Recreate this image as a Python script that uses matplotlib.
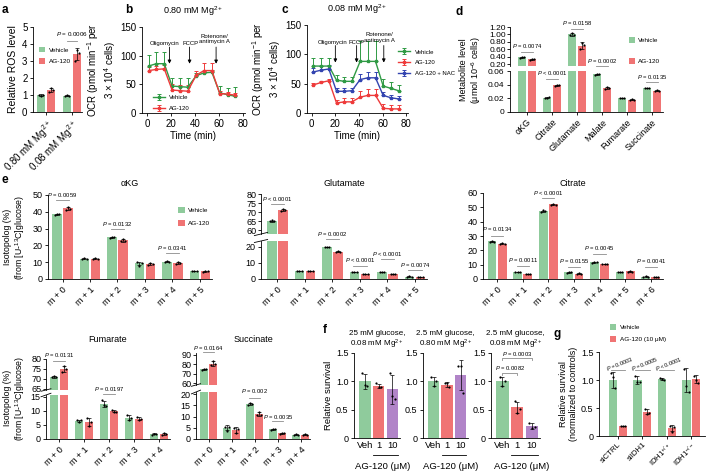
import matplotlib
matplotlib.use('Agg')
import matplotlib.pyplot as plt
from matplotlib.patches import Patch
import numpy as np

plt.rcParams['font.family'] = ['Liberation Sans', 'DejaVu Sans']
plt.rcParams['mathtext.fontset'] = 'custom'
plt.rcParams['mathtext.rm'] = 'Liberation Sans'
plt.rcParams['mathtext.it'] = 'Liberation Sans:italic'
plt.rcParams['axes.linewidth'] = 0.6

# ---------------- data ----------------
# a
a_groups = ['0.80 mM Mg$^{2+}$', '0.08 mM Mg$^{2+}$']
a_veh = [1.0, 0.97]
a_ag = [1.3, 3.4]
a_veh_pts = [[1.0, 0.95, 1.02], [0.95, 1.0, 0.97]]
a_ag_pts = [[1.15, 1.42, 1.3], [3.0, 3.65, 3.5]]

# b / c (OCR)
time_min = [1.5, 8, 14.5, 21, 27.5, 34, 41, 47.5, 54, 60.5, 67, 73.5]
b_veh = [82, 86, 86, 47, 46, 45, 65, 70, 71, 35, 32, 29]
b_veh_err = [20, 20, 20, 14, 15, 16, 4, 4, 4, 12, 12, 16]
b_ag = [74, 76, 77, 40, 39, 38, 66, 74, 74, 34, 33, 31]
b_ag_err = [6, 6, 6, 10, 10, 10, 8, 14, 14, 4, 4, 4]

c_veh = [80, 80, 80, 56, 54, 54, 88, 88, 88, 46, 42, 38]
c_veh_err = [14, 14, 14, 8, 8, 8, 35, 35, 35, 12, 10, 10]
c_ag = [48, 52, 55, 17, 19, 19, 27, 30, 30, 8, 7, 7]
c_ag_err = [3, 3, 3, 6, 6, 6, 11, 11, 11, 7, 7, 7]
c_nac = [70, 73, 75, 37, 37, 38, 57, 60, 60, 30, 26, 24]
c_nac_err = [7, 7, 7, 5, 5, 5, 10, 10, 10, 5, 5, 5]

# d
d_cats = ['\u03b1KG', 'Citrate', 'Glutamate', 'Malate', 'Fumarate', 'Succinate']
d_veh = [0.38, 0.021, 1.0, 0.055, 0.020, 0.035]
d_ag = [0.33, 0.039, 0.70, 0.035, 0.018, 0.031]
d_veh_pts = [[0.37, 0.39, 0.38], [0.0205, 0.021, 0.0215], [0.98, 1.04, 0.99],
             [0.054, 0.056, 0.055], [0.0198, 0.0202, 0.020], [0.0345, 0.0356, 0.035]]
d_ag_pts = [[0.32, 0.345, 0.33], [0.038, 0.040, 0.039], [0.60, 0.78, 0.72],
            [0.034, 0.0365, 0.035], [0.0175, 0.0186, 0.018], [0.0305, 0.0316, 0.031]]

# e isotopologs
akg_labels = ['m + 0', 'm + 1', 'm + 2', 'm + 3', 'm + 4', 'm + 5']
akg_veh = [38.5, 12.2, 24.8, 9.3, 10.2, 4.7]
akg_ag = [42.0, 12.2, 23.0, 9.0, 9.5, 4.5]
akg_veh_pts = [[38.2, 38.9, 38.6], [12.0, 12.4, 12.2], [24.6, 25.0, 24.8],
               [10.0, 8.0, 9.8], [10.0, 10.5, 10.1], [4.6, 4.8, 4.7]]
akg_ag_pts = [[41.2, 43.0, 41.8], [12.1, 12.3, 12.2], [22.5, 23.8, 22.8],
              [8.5, 9.6, 8.9], [9.0, 10.0, 9.5], [4.4, 4.6, 4.5]]

glu_labels = ['m + 0', 'm + 1', 'm + 2', 'm + 3', 'm + 4', 'm + 5']
glu_veh = [65.0, 5.0, 20.0, 4.2, 4.5, 1.5]
glu_ag = [71.0, 4.9, 17.0, 3.0, 3.3, 1.3]
glu_veh_pts = [[64.8, 65.3, 64.9], [4.9, 5.1, 5.0], [19.8, 20.3, 20.0],
               [4.1, 4.3, 4.2], [4.4, 4.6, 4.5], [1.4, 1.6, 1.5]]
glu_ag_pts = [[70.5, 71.5, 71.0], [4.7, 5.1, 4.9], [16.8, 17.2, 17.0],
              [2.9, 3.1, 3.0], [3.2, 3.4, 3.3], [1.2, 1.4, 1.3]]

cit_labels = ['m + 0', 'm + 1', 'm + 2', 'm + 3', 'm + 4', 'm + 5', 'm + 6']
cit_veh = [26.2, 4.8, 47.3, 4.7, 11.7, 4.8, 1.7]
cit_ag = [24.6, 3.7, 52.0, 3.8, 10.6, 5.3, 1.3]
cit_veh_pts = [[26.0, 26.8, 25.9], [4.6, 5.0, 4.8], [47.0, 47.8, 47.2], [4.5, 4.9, 4.7],
               [11.5, 11.9, 11.7], [4.6, 5.0, 4.8], [1.6, 1.8, 1.7]]
cit_ag_pts = [[24.4, 24.8, 24.6], [3.6, 3.8, 3.7], [51.8, 52.3, 51.9], [3.6, 4.0, 3.8],
              [10.4, 10.8, 10.6], [5.0, 5.7, 5.2], [1.2, 1.4, 1.3]]

fum_labels = ['m + 0', 'm + 1', 'm + 2', 'm + 3', 'm + 4']
fum_veh = [71.0, 6.5, 12.5, 7.6, 1.8]
fum_ag = [75.0, 6.0, 10.0, 7.2, 1.8]
fum_veh_pts = [[70.8, 71.4, 71.2], [6.8, 6.2, 6.9], [14.0, 12.0, 11.8], [8.5, 6.8, 7.6], [1.6, 1.9, 1.9]]
fum_ag_pts = [[73.5, 76.5, 75.0], [7.5, 4.5, 6.0], [10.5, 9.8, 9.7], [7.8, 6.8, 7.0], [1.5, 2.2, 1.7]]

suc_labels = ['m + 0', 'm + 1', 'm + 2', 'm + 3', 'm + 4']
suc_veh = [74.5, 5.0, 15.5, 4.3, 2.0]
suc_ag = [80.5, 4.0, 11.0, 2.5, 2.0]
suc_veh_pts = [[74.2, 75.0, 74.5], [5.5, 3.5, 5.5], [15.2, 15.8, 15.5], [4.0, 4.5, 4.3], [1.8, 2.2, 2.0]]
suc_ag_pts = [[79.5, 84.0, 79.8], [5.0, 2.5, 4.5], [10.5, 12.2, 10.8], [2.2, 2.8, 2.5], [1.8, 2.1, 2.0]]

# f
f_titles = ['25 mM glucose,\n0.08 mM Mg$^{2+}$', '2.5 mM glucose,\n0.80 mM Mg$^{2+}$',
            '2.5 mM glucose,\n0.08 mM Mg$^{2+}$']
f_doses = ['Veh', '1', '10']
f_means = [[1.0, 0.92, 0.86], [1.0, 0.94, 1.11], [1.0, 0.54, 0.21]]
f_pts = [[[1.15, 0.93, 0.92], [0.97, 0.90, 0.90], [1.15, 0.75, 0.68]],
         [[1.07, 0.92, 1.0], [0.97, 0.97, 0.90], [1.27, 1.27, 0.80]],
         [[1.07, 0.92, 1.0], [0.65, 0.45, 0.52], [0.27, 0.18, 0.19]]]

# g
g_cats = ['siCTRL', 'siIDH1', 'IDH1$^{+/+}$', 'IDH1$^{-/-}$']
g_veh = [1.0, 1.0, 1.02, 1.0]
g_ag = [0.17, 0.43, 0.14, 1.02]
g_veh_pts = [[1.12, 1.05, 0.85], [1.08, 0.97, 0.97], [1.03, 1.02, 1.0], [1.2, 0.9, 0.78]]
g_ag_pts = [[0.17, 0.17, 0.17], [0.48, 0.40, 0.41], [0.18, 0.08, 0.16], [1.08, 1.0, 0.95]]

# ---------------- style ----------------
GREEN = '#8fcb9c'
RED = '#f07474'
PURPLE = '#b184c8'
LGREEN = '#2f9a44'
LRED = '#ee3a3a'
LBLUE = '#3344b0'
PGRAY = '#8c8c8c'

W, H = 707, 471
fig = plt.figure(figsize=(W / 100, H / 100), dpi=100)


def add_ax(l, t, r, b, fs=6.5):
    ax = fig.add_axes([l / W, 1 - b / H, (r - l) / W, (b - t) / H])
    for s in ['top', 'right']:
        ax.spines[s].set_visible(False)
    ax.tick_params(width=0.6, length=2.5, labelsize=fs, pad=1.5)
    return ax


def ft(x, y, s, **kw):
    return fig.text(x / W, 1 - y / H, s, **kw)


def dots(ax, xs, pts, dx=0.22):
    for x, p in zip(xs, pts):
        ax.scatter(x + np.array([-dx, 0, dx]), p, s=2.5, color='k', zorder=3, linewidths=0)


def grouped(ax, veh_m, veh_p, ag_m, ag_p, width=0.85, sp=2.5, off=0.5):
    n = len(veh_m)
    centers = np.arange(n) * sp
    for means, pts, col, o in [(veh_m, veh_p, GREEN, -off), (ag_m, ag_p, RED, off)]:
        xs = centers + o
        ax.bar(xs, means, width, color=col, zorder=1)
        errs = [np.std(p, ddof=1) for p in pts]
        ax.errorbar(xs, means, yerr=errs, fmt='none', ecolor='k', elinewidth=0.5,
                    capsize=1.2, capthick=0.5, zorder=2)
        dots(ax, xs, pts)
    return centers


def pval(ax, x0, x1, yline, ytext, text, fs=4.2):
    ax.plot([x0, x1], [yline, yline], color=PGRAY, lw=0.6, clip_on=False)
    ax.text((x0 + x1) / 2, ytext, text, ha='center', va='center', fontsize=fs, clip_on=False)


def P(v):
    return r'$\it{P}$ ' + v


def rot_labels(ax, ticks, labels, fs=6.5):
    ax.set_xticks(ticks)
    ax.set_xticklabels(labels, rotation=45, ha='right', rotation_mode='anchor', fontsize=fs)


def sq_legend(ax, labels, colors, anchor, fs=4.6, loc='upper left', spacing=0.9):
    handles = [Patch(facecolor=c, edgecolor='none') for c in colors]
    ax.legend(handles, labels, loc=loc, bbox_to_anchor=anchor, frameon=False, fontsize=fs,
              handlelength=1.0, handleheight=1.0, handletextpad=0.5, labelspacing=spacing,
              borderaxespad=0)


def break_marks(ax_top, ax_bot):
    for ax, y in [(ax_top, 0), (ax_bot, 1)]:
        ax.plot([-0.04, 0.04], [y - 0.04, y + 0.04], transform=ax.transAxes, color='k',
                lw=0.6, clip_on=False)


# ---------------- panel labels ----------------
for lab, x, y in [('a', 2, 10), ('b', 125, 10), ('c', 281, 10), ('d', 455, 12),
                  ('e', 2, 180), ('f', 323, 330), ('g', 553, 334)]:
    ft(x, y, lab, fontsize=8.5, fontweight='bold', va='center', ha='left')

# ---------------- a ----------------
ax = add_ax(33, 27, 82, 112, fs=7)
xa_veh = np.array([0.0, 2.5])
xa_ag = xa_veh + 1.0
ax.bar(xa_veh, a_veh, 0.8, color=GREEN)
ax.bar(xa_ag, a_ag, 0.8, color=RED)
ax.errorbar(xa_veh, a_veh, yerr=[np.std(p, ddof=1) for p in a_veh_pts], fmt='none', ecolor='k',
            elinewidth=0.5, capsize=1.2, capthick=0.5)
ax.errorbar(xa_ag, a_ag, yerr=[np.std(p, ddof=1) for p in a_ag_pts], fmt='none', ecolor='k',
            elinewidth=0.5, capsize=1.2, capthick=0.5)
dots(ax, xa_veh, a_veh_pts, 0.2)
dots(ax, xa_ag, a_ag_pts, 0.2)
ax.set_xlim(-0.8, 4.0)
ax.set_ylim(0, 5)
ax.set_yticks([0, 1, 2, 3, 4, 5])
rot_labels(ax, (xa_veh + xa_ag) / 2, a_groups, fs=7)
ax.set_ylabel('Relative ROS level', fontsize=7.5, labelpad=3)
pval(ax, 2.5, 3.5, 4.15, 4.6, P('= 0.0006'), fs=4.5)
sq_legend(ax, ['Vehicle', 'AG-120'], [GREEN, RED], (0.07, 0.80))

# ---------------- b ----------------
def ocr_axes(ax, title):
    ax.set_xlim(-4, 81.5)
    ax.set_ylim(0, 150)
    ax.set_xticks([0, 20, 40, 60, 80])
    ax.set_yticks([0, 50, 100, 150])
    ax.tick_params(labelsize=7)
    ax.set_xlabel('Time (min)', fontsize=7, labelpad=2)
    ax.set_title(title, fontsize=6.5, pad=9)


def arrows(ax, xs, texts_x, y_tail=115, y_head=86):
    for x in xs:
        ax.annotate('', xy=(x, y_head), xytext=(x, y_tail),
                    arrowprops=dict(arrowstyle='-|>', lw=0.6, color='k', mutation_scale=5,
                                    shrinkA=0, shrinkB=0))
    ax.text(texts_x[0], 121, 'Oligomycin', fontsize=4.3, ha='center', va='center')
    ax.text(texts_x[1], 121, 'FCCP', fontsize=4.3, ha='center', va='center')
    ax.text(texts_x[2], 129, 'Rotenone/\nantimycin A', fontsize=4.3, ha='center', va='center',
            linespacing=1.2)


def ocr_line(ax, y, err, color, label):
    z = np.zeros(len(y))
    ax.errorbar(time_min, y, yerr=[z, err], color=color, lw=1.0, marker='s', ms=1.8,
                elinewidth=0.7, capsize=1.5, capthick=0.7, label=label)


ocr_ylabel = 'OCR (pmol min$^{-1}$ per\n3 \u00d7 10$^4$ cells)'

ax = add_ax(142, 27, 245, 113)
ocr_line(ax, b_veh, b_veh_err, LGREEN, 'Vehicle')
ocr_line(ax, b_ag, b_ag_err, LRED, 'AG-120')
ocr_axes(ax, '0.80 mM Mg$^{2+}$')
arrows(ax, [18.8, 35.5, 57.5], [15, 36, 56])
ax.set_ylabel(ocr_ylabel, fontsize=7, labelpad=2, linespacing=1.1)
ax.legend(loc='lower left', bbox_to_anchor=(0.08, 0.0), frameon=False, fontsize=4.3,
          handlelength=2.0, labelspacing=0.9, borderaxespad=0)

# ---------------- c ----------------
ax = add_ax(307, 25, 408, 113)
ocr_line(ax, c_veh, c_veh_err, LGREEN, 'Vehicle')
ocr_line(ax, c_ag, c_ag_err, LRED, 'AG-120')
ocr_line(ax, c_nac, c_nac_err, LBLUE, 'AG-120 + NAC')
ocr_axes(ax, '0.08 mM Mg$^{2+}$')
arrows(ax, [20, 38, 61], [17.5, 38, 57.5])
ax.set_ylabel(ocr_ylabel, fontsize=7, labelpad=2, linespacing=1.1)
ax.legend(loc='upper left', bbox_to_anchor=(0.88, 0.75), frameon=False, fontsize=4.3,
          handlelength=2.0, labelspacing=0.9, borderaxespad=0)

# ---------------- d ----------------
axu = add_ax(510, 27, 663, 66, fs=6)
axl = add_ax(510, 71, 663, 112, fs=6)
for ax in (axu, axl):
    c = grouped(ax, d_veh, d_veh_pts, d_ag, d_ag_pts)
    ax.set_xlim(-1.7, 13.6)
axu.set_ylim(0.146, 1.2)
axu.set_yticks([0.2, 0.4, 0.6, 0.8, 1.0, 1.2])
axu.set_yticklabels(['0.20', '0.40', '0.60', '0.80', '1.00', '1.20'])
axu.tick_params(axis='y', length=2, pad=1)
axu.spines['bottom'].set_visible(False)
axu.set_xticks([])
axl.set_ylim(0, 0.06)
axl.set_yticks([0, 0.02, 0.04, 0.06])
axl.set_yticklabels(['0', '0.02', '0.04', '0.06'])
rot_labels(axl, c, d_cats, fs=6.5)
ft(471, 70, 'Metabolite level\n(\u03bcmol 10$^{-6}$ cells)', fontsize=6.5, rotation=90,
   ha='center', va='center', linespacing=1.1)
pval(axu, c[0] - 0.6, c[0] + 0.6, 0.524, 0.686, P('= 0.0074'))
pval(axu, c[2] - 0.6, c[2] + 0.6, 1.146, 1.31, P('= 0.0158'))
pval(axl, c[1] - 0.6, c[1] + 0.6, 0.0483, 0.057, P('< 0.0001'))
pval(axl, c[3] - 0.6, c[3] + 0.6, 0.0673, 0.0746, P('= 0.0002'))
pval(axl, c[5] - 0.6, c[5] + 0.6, 0.0439, 0.0512, P('= 0.0135'))
sq_legend(axu, ['Vehicle', 'AG-120'], [GREEN, RED], (0.76, 0.80), spacing=2.3)

# ---------------- e: aKG ----------------
ax = add_ax(48, 195, 212, 279)
c = grouped(ax, akg_veh, akg_veh_pts, akg_ag, akg_ag_pts)
ax.set_xlim(-1.32, 13.6)
ax.set_ylim(0, 50)
ax.set_yticks([0, 10, 20, 30, 40, 50])
rot_labels(ax, c, akg_labels)
ft(130, 183, '\u03b1KG', fontsize=6.5, ha='center', va='center')
pval(ax, c[0] - 0.6, c[0] + 0.6, 47, 50, P('= 0.0059'))
pval(ax, c[2] - 0.6, c[2] + 0.6, 29.8, 32.5, P('= 0.0132'))
pval(ax, c[4] - 0.6, c[4] + 0.6, 15.5, 18.5, P('= 0.0341'))
sq_legend(ax, ['Vehicle', 'AG-120'], [GREEN, RED], (0.78, 0.89), spacing=1.1)

ylab_e = 'Isotopolog (%)\n(from [U-$^{13}$C]glucose)'
ft(15, 237, ylab_e, fontsize=6.3, rotation=90, ha='center', va='center', linespacing=1.15)

# ---------------- e: Glutamate ----------------
axu = add_ax(261, 194, 427, 234)
axl = add_ax(261, 241, 427, 279)
for ax in (axu, axl):
    c = grouped(ax, glu_veh, glu_veh_pts, glu_ag, glu_ag_pts)
    ax.set_xlim(-1.5, 13.6)
axu.set_ylim(57.8, 80)
axu.set_yticks([60, 65, 70, 75, 80])
axu.tick_params(axis='y', pad=1)
axu.spines['bottom'].set_visible(False)
axu.set_xticks([])
axl.set_ylim(0, 23.75)
axl.set_yticks([0, 10, 20])
rot_labels(axl, c, glu_labels)
break_marks(axu, axl)
ft(344, 183, 'Glutamate', fontsize=6.5, ha='center', va='center')
pval(axu, c[0] - 0.6, c[0] + 0.6, 74.4, 77.4, P('< 0.0001'))
pval(axl, c[2] - 0.6, c[2] + 0.6, 25.0, 28.2, P('= 0.0002'))
pval(axl, c[3] - 0.6, c[3] + 0.6, 8.1, 11.9, P('< 0.0001'))
pval(axl, c[4] - 0.6, c[4] + 0.6, 12.5, 15.8, P('< 0.0001'))
pval(axl, c[5] - 0.6, c[5] + 0.6, 5.6, 8.8, P('= 0.0074'))

# ---------------- e: Citrate ----------------
ax = add_ax(483, 193, 663, 279)
c = grouped(ax, cit_veh, cit_veh_pts, cit_ag, cit_ag_pts)
ax.set_xlim(-1.38, 16.2)
ax.set_ylim(0, 60)
ax.set_yticks([0, 10, 20, 30, 40, 50, 60])
rot_labels(ax, c, cit_labels)
ft(573, 183, 'Citrate', fontsize=6.5, ha='center', va='center')
pval(ax, c[0] - 0.6, c[0] + 0.6, 30.0, 34.6, P('= 0.0134'))
pval(ax, c[1] - 0.6, c[1] + 0.6, 9.0, 13.3, P('= 0.0011'))
pval(ax, c[2] - 0.6, c[2] + 0.6, 56.5, 60.3, P('< 0.0001'))
pval(ax, c[3] - 0.6, c[3] + 0.6, 8.4, 12.6, P('= 0.0155'))
pval(ax, c[4] - 0.6, c[4] + 0.6, 17.4, 21.6, P('= 0.0045'))
pval(ax, c[6] - 0.6, c[6] + 0.6, 8.4, 12.6, P('= 0.0041'))

# ---------------- Fumarate ----------------
axu = add_ax(46, 359, 170, 390)
axl = add_ax(46, 395, 170, 439)
for ax in (axu, axl):
    c = grouped(ax, fum_veh, fum_veh_pts, fum_ag, fum_ag_pts)
    ax.set_xlim(-1.3, 11.1)
axu.set_ylim(64.5, 80)
axu.set_yticks([65, 70, 75, 80])
axu.tick_params(axis='y', pad=1)
axu.spines['bottom'].set_visible(False)
axu.set_xticks([])
axl.set_ylim(0, 15.7)
axl.set_yticks([0, 5, 10, 15])
rot_labels(axl, c, fum_labels)
break_marks(axu, axl)
ft(108, 339, 'Fumarate', fontsize=6.5, ha='center', va='center')
pval(axu, c[0] - 0.6, c[0] + 0.6, 79.0, 82.0, P('= 0.0131'))
pval(axl, c[2] - 0.6, c[2] + 0.6, 16.1, 17.7, P('= 0.0197'))
ft(15, 398, ylab_e, fontsize=6.3, rotation=90, ha='center', va='center', linespacing=1.15)

# ---------------- Succinate ----------------
axu = add_ax(196, 353, 310, 385)
axl = add_ax(196, 392, 310, 439)
for ax in (axu, axl):
    c = grouped(ax, suc_veh, suc_veh_pts, suc_ag, suc_ag_pts)
    ax.set_xlim(-1.37, 11.0)
axu.set_ylim(58, 92)
axu.set_yticks([60, 70, 80, 90])
axu.tick_params(axis='y', pad=1)
axu.spines['bottom'].set_visible(False)
axu.set_xticks([])
axl.set_ylim(0, 20.9)
axl.set_yticks([0, 5, 10, 15, 20])
rot_labels(axl, c, suc_labels)
break_marks(axu, axl)
ft(253, 339, 'Succinate', fontsize=6.5, ha='center', va='center')
pval(axu, c[0] - 0.6, c[0] + 0.6, 93.0, 97.5, P('= 0.0164'))
pval(axl, c[2] - 0.6, c[2] + 0.6, 18.2, 21.3, P('= 0.002'))
pval(axl, c[3] - 0.6, c[3] + 0.6, 8.0, 9.9, P('= 0.0035'))

# ---------------- f ----------------
f_boxes = [(354, 400), (423, 468), (491, 540)]
f_cols = [GREEN, RED, PURPLE]
for i, (l, r) in enumerate(f_boxes):
    ax = add_ax(l, 353, r, 438)
    xs = np.arange(3)
    ax.bar(xs, f_means[i], 0.85, color=f_cols)
    ax.errorbar(xs, f_means[i], yerr=[np.std(p, ddof=1) for p in f_pts[i]], fmt='none',
                ecolor='k', elinewidth=0.5, capsize=1.5, capthick=0.5)
    dots(ax, xs, f_pts[i], 0.18)
    ax.set_xlim(-0.78, 2.55)
    ax.set_ylim(0, 1.5)
    ax.set_yticks([0, 0.5, 1.0, 1.5])
    ax.set_yticklabels(['0', '0.5', '1.0', '1.5'])
    ax.tick_params(labelsize=6.5)
    ax.set_xticks(xs)
    ax.set_xticklabels(f_doses, fontsize=6.8)
    ax.tick_params(axis='x', length=0, pad=2)
    ax.plot([0.6, 2.4], [-0.2, -0.2], color='k', lw=0.6, clip_on=False,
            transform=ax.get_xaxis_transform())
    ax.text(1.3, -0.33, 'AG-120 (\u03bcM)', fontsize=6.8, ha='center', va='center',
            transform=ax.get_xaxis_transform())
    ax.set_title(f_titles[i], fontsize=5.8, pad=5, linespacing=1.05)
    if i == 0:
        ax.set_ylabel('Relative survival', fontsize=6.8, labelpad=2)
    if i == 2:
        ax.plot([0, 0, 1, 1], [1.12, 1.15, 1.15, 1.12], color=PGRAY, lw=0.6)
        ax.text(0.5, 1.23, P('= 0.0082'), fontsize=4.2, ha='center', va='center')
        ax.plot([0, 0, 2, 2], [1.38, 1.41, 1.41, 1.38], color=PGRAY, lw=0.6)
        ax.text(1.0, 1.49, P('= 0.0003'), fontsize=4.2, ha='center', va='center', clip_on=False)

# ---------------- g ----------------
ax = add_ax(599, 352, 705, 436)
c = grouped(ax, g_veh, g_veh_pts, g_ag, g_ag_pts)
ax.set_xlim(-1.93, 8.9)
ax.set_ylim(0, 1.5)
ax.set_yticks([0, 0.5, 1.0, 1.5])
ax.set_yticklabels(['0', '0.5', '1.0', '1.5'])
ax.tick_params(labelsize=6.5)
ax.tick_params(axis='x', pad=1)
rot_labels(ax, c, g_cats, fs=5.6)
ax.set_ylabel('Relative survival\n(normalized to controls)', fontsize=6.5, labelpad=2,
              linespacing=1.1)
for ci, t in zip(c[:3], ['= 0.0003', '= 0.0005', '< 0.0001']):
    ax.plot([ci - 0.75, ci + 0.75], [1.18, 1.18], color=PGRAY, lw=0.6)
    ax.text(ci + 0.2, 1.29, P(t), fontsize=4.0, ha='center', va='center', rotation=22)
sq_legend(ax, ['Vehicle', 'AG-120 (10 \u03bcM)'], [GREEN, RED], (0.08, 1.36), fs=4.6)

fig.savefig('out.png', dpi=100)
